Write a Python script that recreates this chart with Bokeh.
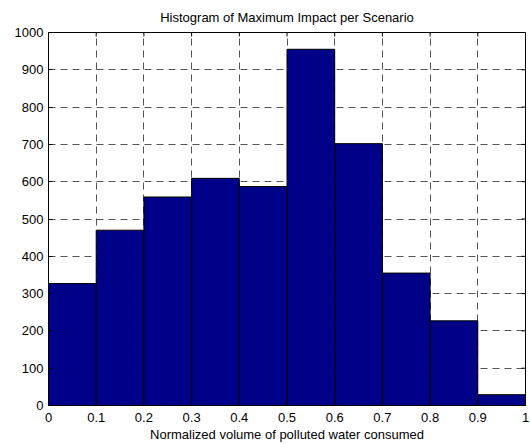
import math
from bokeh.plotting import figure
from bokeh.models import Range1d, FixedTicker
from bokeh.embed import file_html
from bokeh.resources import INLINE

# Data
bin_edges = [0.0, 0.1, 0.2, 0.3, 0.4, 0.5, 0.6, 0.7, 0.8, 0.9, 1.0]
counts = [327, 470, 559, 609, 587, 955, 702, 355, 227, 29]
x_ticks = [0.0, 0.1, 0.2, 0.3, 0.4, 0.5, 0.6, 0.7, 0.8, 0.9, 1.0]
x_tick_labels = ["0", "0.1", "0.2", "0.3", "0.4", "0.5", "0.6", "0.7", "0.8", "0.9", "1"]
y_ticks = [0, 100, 200, 300, 400, 500, 600, 700, 800, 900, 1000]

FONT = "Liberation Sans"
X_MIN, X_MAX = 0, 1
Y_MIN, Y_MAX = 0, 1000

p = figure(width=530, height=444, output_backend="svg", toolbar_location=None,
           x_range=Range1d(X_MIN, X_MAX), y_range=Range1d(Y_MIN, Y_MAX),
           min_border_left=48, min_border_right=5, min_border_top=32, min_border_bottom=37,
           title="Histogram of Maximum Impact per Scenario")

p.quad(left=bin_edges[:-1], right=bin_edges[1:], bottom=0, top=counts,
       fill_color="#000088", line_color="black", line_width=1)

# inward ticks on the top and right edges (MATLAB box)
p.ray(x=x_ticks, y=[Y_MAX] * len(x_ticks), length=4, length_units="screen",
      angle=-math.pi / 2, line_color="black", line_width=1)
p.ray(x=[X_MAX] * len(y_ticks), y=y_ticks, length=4, length_units="screen",
      angle=math.pi, line_color="black", line_width=1)

p.title.align = "center"
p.title.vertical_align = "top"
p.title.text_font = FONT
p.title.text_font_style = "normal"
p.title.text_font_size = "13px"
p.title.text_color = "black"
p.title.standoff = 11

p.outline_line_color = "black"
p.outline_line_alpha = 1
p.outline_line_width = 1

p.xaxis.ticker = FixedTicker(ticks=x_ticks)
p.xaxis.major_label_overrides = {t: l for t, l in zip(x_ticks, x_tick_labels)}
p.yaxis.ticker = FixedTicker(ticks=y_ticks)
p.xaxis.axis_label = "Normalized volume of polluted water consumed"

for ax in (p.xaxis, p.yaxis):
    ax.major_tick_in = 4
    ax.major_tick_out = 0
    ax.minor_tick_line_color = None
    ax.axis_line_color = "black"
    ax.major_tick_line_color = "black"
    ax.major_label_text_font = FONT
    ax.major_label_text_font_size = "13px"
    ax.major_label_text_color = "black"
    ax.axis_label_text_font = FONT
    ax.axis_label_text_font_size = "13px"
    ax.axis_label_text_font_style = "normal"
    ax.axis_label_text_color = "black"
    ax.axis_label_standoff = 2
p.xaxis.major_label_standoff = 7
p.yaxis.major_label_standoff = 5

p.xgrid.ticker = FixedTicker(ticks=x_ticks)
p.ygrid.ticker = FixedTicker(ticks=y_ticks)
for g in (p.xgrid, p.ygrid):
    g.grid_line_color = "#555555"
    g.grid_line_dash = "7 5"
    g.grid_line_width = 1

open("out.html", "w").write(file_html(p, INLINE))
